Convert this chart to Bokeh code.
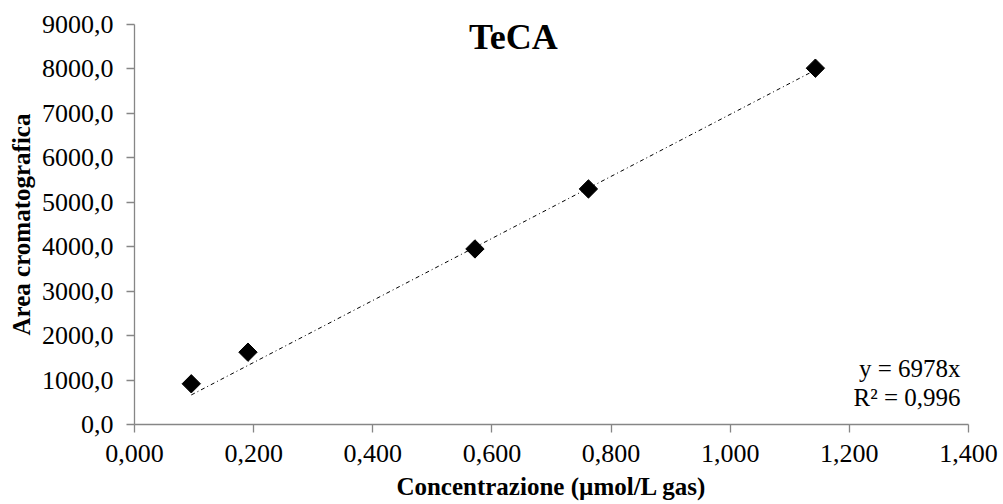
from bokeh.plotting import figure
from bokeh.models import Range1d, FixedTicker, CustomJSTickFormatter, Label
from bokeh.embed import file_html
from bokeh.resources import INLINE

# ---- data ----
conc = [0.0953, 0.1905, 0.5715, 0.762, 1.143]
area = [916, 1627, 3950, 5300, 8017]
slope = 6978
r2_text = "R² = 0,996"
eq_text = "y = 6978x"
x_ticks = [0.0, 0.2, 0.4, 0.6, 0.8, 1.0, 1.2, 1.4]
y_ticks = [0, 1000, 2000, 3000, 4000, 5000, 6000, 7000, 8000, 9000]
title_text = "TeCA"
x_label = "Concentrazione (µmol/L gas)"
y_label = "Area cromatografica"

FONT = "Liberation Serif"
AXIS_COLOR = "#868686"

p = figure(width=1003, height=504, output_backend="svg", toolbar_location=None,
           x_range=Range1d(x_ticks[0], x_ticks[-1]),
           y_range=Range1d(y_ticks[0], y_ticks[-1]),
           min_border_left=134, min_border_right=35,
           min_border_top=24, min_border_bottom=80)
p.outline_line_color = None
p.grid.visible = False
p.background_fill_color = "white"
p.border_fill_color = "white"

# axes
for ax in (p.xaxis[0], p.yaxis[0]):
    ax.axis_line_color = AXIS_COLOR
    ax.axis_line_width = 1.3
    ax.major_tick_line_color = AXIS_COLOR
    ax.major_tick_line_width = 1.3
    ax.major_tick_in = 0
    ax.major_tick_out = 8
    ax.minor_tick_line_color = None
    ax.major_label_text_font = FONT
    ax.major_label_text_font_size = "26px"
    ax.major_label_text_color = "black"
    ax.axis_label_text_font = FONT
    ax.axis_label_text_font_size = "25px"
    ax.axis_label_text_font_style = "bold"
    ax.axis_label_text_color = "black"

p.xaxis.ticker = FixedTicker(ticks=x_ticks)
p.yaxis.ticker = FixedTicker(ticks=y_ticks)
p.xaxis.formatter = CustomJSTickFormatter(code="return tick.toFixed(3).replace('.', ',');")
p.yaxis.formatter = CustomJSTickFormatter(code="return tick.toFixed(1).replace('.', ',');")
p.xaxis.axis_label = x_label
p.yaxis.axis_label = y_label
p.xaxis.major_label_standoff = 12
p.xaxis.axis_label_standoff = 8
p.yaxis.major_label_standoff = 13
p.yaxis.axis_label_standoff = 4

# trendline (through origin) over data range
tx = [min(conc), max(conc)]
ty = [slope * v for v in tx]
p.line(tx, ty, line_color="black", line_width=1, line_dash="4 3 1 3")

# markers (diamonds)
p.scatter(conc, area, marker="square", angle=0.785398, size=13,
          fill_color="black", line_color="black")

# title
p.add_layout(Label(x=0.636, y=8730, text=title_text, text_font=FONT,
                   text_font_size="36px", text_font_style="bold",
                   text_align="center", text_baseline="middle", text_color="black"))

# equation
p.add_layout(Label(x=1.3866, y=1260, text=eq_text, text_font=FONT,
                   text_font_size="25px", text_align="right",
                   text_baseline="middle", text_color="black"))
p.add_layout(Label(x=1.3866, y=607, text=r2_text, text_font=FONT,
                   text_font_size="25px", text_align="right",
                   text_baseline="middle", text_color="black"))

open("out.html", "w").write(file_html(p, INLINE))
